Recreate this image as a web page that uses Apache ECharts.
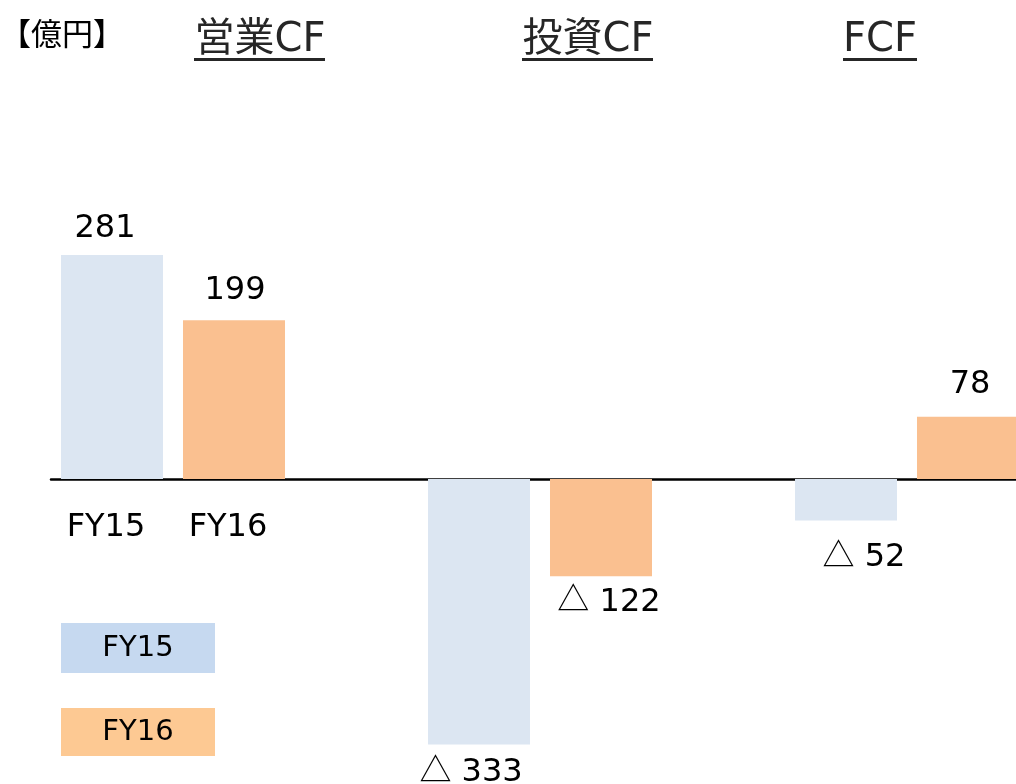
<!DOCTYPE html>
<html>
<head>
<meta charset="utf-8">
<script src="https://cdn.jsdelivr.net/npm/echarts@6/dist/echarts.min.js"></script>
<style>
  html, body { margin: 0; padding: 0; background: #fff; }
  #main { width: 1016px; height: 784px; }
</style>
</head>
<body>
<div id="main"></div>
<script>
// 区分
const categories = ['営業CF', '投資CF', 'FCF'];
const seriesNames = ['FY15', 'FY16'];
// 値（億円）
const fy15Values = [281, -333, -52];
const fy16Values = [199, -122, 78];

const FONT = "'DejaVu Sans', 'Noto Sans CJK JP', sans-serif";
const barColors = ['#dce6f2', '#fac090'];
const legendColors = ['#c6d9f0', '#fdc993'];

// ラベル位置の微調整 [dx, distance]
const labelTweak = [
  [[-7, 10], [-8, 8], [18, 17]],
  [[1, 14], [8, 6], [2, 16]]
];

// マイナスは△表示
function fmt(p) {
  return p.value < 0 ? '{tri|△} ' + Math.abs(p.value) : String(p.value);
}

function buildData(values, s) {
  return values.map(function (v, i) {
    return {
      value: v,
      label: { offset: [labelTweak[s][i][0], 0], distance: labelTweak[s][i][1] }
    };
  });
}

var myChart = echarts.init(document.getElementById('main'));

function titleWithLine(text, x, x1, x2) {
  return [
    { type: 'text', x: x, y: 41, style: { text: text, font: '40px ' + FONT, fill: '#262626', textAlign: 'center', textVerticalAlign: 'middle' } },
    { type: 'line', shape: { x1: x1, y1: 59.5, x2: x2, y2: 59.5 }, style: { stroke: '#262626', lineWidth: 3 } }
  ];
}

var graphics = [].concat(
  [{ type: 'text', x: 0, y: 37, style: { text: '【億円】', font: '31px ' + FONT, fill: '#000', textVerticalAlign: 'middle' } }],
  titleWithLine(categories[0], 260, 194, 325),
  titleWithLine(categories[1], 588, 522, 653),
  titleWithLine(categories[2], 880, 843, 917),
  [
    { type: 'text', x: 106, y: 528, style: { text: seriesNames[0], font: '32px ' + FONT, fill: '#000', textAlign: 'center', textVerticalAlign: 'middle' } },
    { type: 'text', x: 228, y: 528, style: { text: seriesNames[1], font: '32px ' + FONT, fill: '#000', textAlign: 'center', textVerticalAlign: 'middle' } },
    { type: 'rect', shape: { x: 61, y: 623, width: 154, height: 50 }, style: { fill: legendColors[0] } },
    { type: 'text', x: 138, y: 648, style: { text: seriesNames[0], font: '29px ' + FONT, fill: '#000', textAlign: 'center', textVerticalAlign: 'middle' } },
    { type: 'rect', shape: { x: 61, y: 708, width: 154, height: 48 }, style: { fill: legendColors[1] } },
    { type: 'text', x: 138, y: 732, style: { text: seriesNames[1], font: '29px ' + FONT, fill: '#000', textAlign: 'center', textVerticalAlign: 'middle' } }
  ]
);

var labelStyle = {
  show: true, position: 'outside', formatter: fmt,
  color: '#000', fontSize: 32, fontFamily: FONT,
  rich: { tri: { fontSize: 32, fontFamily: 'Noto Sans CJK JP', color: '#000', padding: [0, 0, 8, 0] } }
};

var option = {
  animation: false,
  backgroundColor: '#fff',
  grid: [
    { left: -10.5, width: 1101, top: 200, height: 558, outerBoundsMode: 'none' },
    { left: 51, right: 0, top: 200, height: 558, outerBoundsMode: 'none' }
  ],
  xAxis: [
    { type: 'category', gridIndex: 0, data: categories, axisLine: { show: false }, axisTick: { show: false }, axisLabel: { show: false } },
    { type: 'category', gridIndex: 1, data: categories, axisLine: { show: true, lineStyle: { color: '#000', width: 2.5 } }, axisTick: { show: false }, axisLabel: { show: false } }
  ],
  yAxis: [
    { type: 'value', gridIndex: 0, min: -350, max: 350, show: false, splitLine: { show: false } },
    { type: 'value', gridIndex: 1, min: -350, max: 350, show: false, splitLine: { show: false } }
  ],
  series: [
    {
      name: seriesNames[0], type: 'bar', xAxisIndex: 0, yAxisIndex: 0,
      barWidth: 102, barGap: '19.6%',
      itemStyle: { color: barColors[0] },
      label: labelStyle,
      data: buildData(fy15Values, 0)
    },
    {
      name: seriesNames[1], type: 'bar', xAxisIndex: 0, yAxisIndex: 0,
      barWidth: 102, barGap: '19.6%',
      itemStyle: { color: barColors[1] },
      label: labelStyle,
      data: buildData(fy16Values, 1)
    }
  ],
  graphic: graphics
};

myChart.setOption(option);
</script>
</body>
</html>
